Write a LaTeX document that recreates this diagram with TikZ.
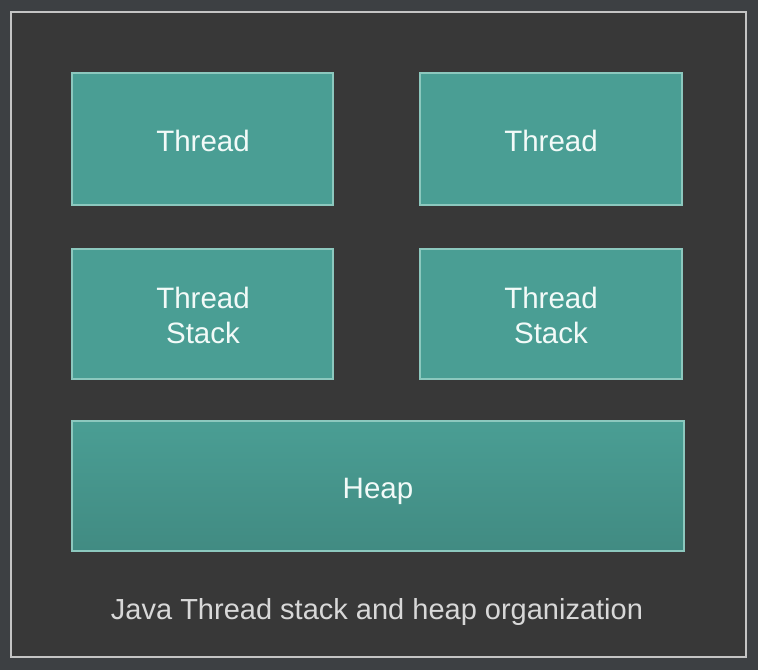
\documentclass[tikz,border=0pt]{standalone}
\usepackage{fontspec}
\setmainfont{Liberation Sans}
\definecolor{outerbg}{HTML}{3D4043}
\definecolor{innerbg}{HTML}{383838}
\definecolor{framec}{HTML}{C4C4C4}
\definecolor{boxfill}{HTML}{4A9E94}
\definecolor{boxedge}{HTML}{8CC8BE}
\definecolor{boxtext}{HTML}{F2FAF8}
\definecolor{captext}{HTML}{D8D8D8}
\tikzset{
  membox/.style={draw=boxedge, line width=1.2pt, fill=boxfill, inner sep=0pt},
  boxlabel/.style={text=boxtext, font=\fontsize{29.5}{35}\selectfont, align=center, inner sep=0pt},
}
\begin{document}
\begin{tikzpicture}[x=1pt,y=-1pt]
\useasboundingbox (0,0) rectangle (758,670);
\fill[outerbg] (0,0) rectangle (758,670);
\draw[framec, fill=innerbg, line width=1.5pt] (11,12) rectangle (746,657);
\node[membox, minimum width=261pt, minimum height=132pt] (t1) at (202.5,139) {};
\node[membox, minimum width=262pt, minimum height=132pt] (t2) at (551,139) {};
\node[membox, minimum width=261pt, minimum height=130pt] (s1) at (202.5,314) {};
\node[membox, minimum width=262pt, minimum height=130pt] (s2) at (551,314) {};
\node[membox, minimum width=612pt, minimum height=130pt, top color=boxfill, bottom color=boxfill!88!black] (heap) at (378,486) {};
\node[boxlabel] (t1l) at (203,140.5) {Thread};
\node[boxlabel] (t2l) at (551,140.5) {Thread};
\node[boxlabel] (s1l) at (203,315) {Thread\\Stack};
\node[boxlabel] (s2l) at (551,315) {Thread\\Stack};
\node[boxlabel] (heapl) at (378,491) {Heap};
\node[text=captext, font=\fontsize{29}{33}\selectfont] (cap) at (377,612) {Java Thread stack and heap organization};
\end{tikzpicture}
\end{document}
